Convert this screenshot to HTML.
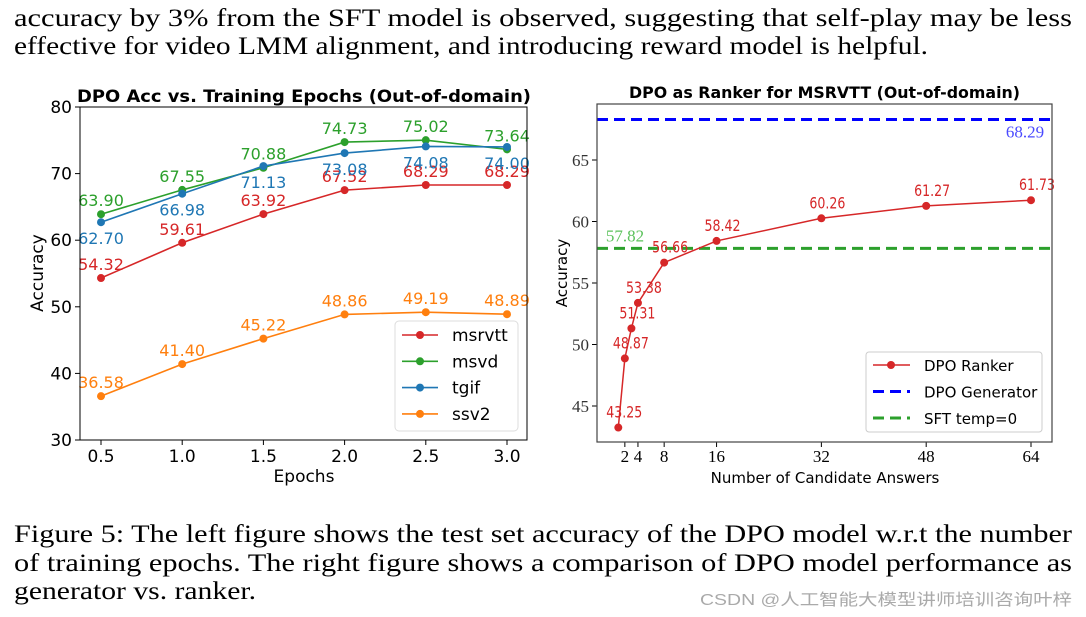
<!DOCTYPE html>
<html><head><meta charset="utf-8">
<style>
html,body{margin:0;padding:0;background:#fff;}
svg{display:block;}
.serif{font-family:"Liberation Serif",serif;}
.sans{font-family:"DejaVu Sans","Liberation Sans",sans-serif;}
</style></head>
<body>
<svg id="fig" width="1086" height="617" viewBox="0 0 1086 617" xmlns="http://www.w3.org/2000/svg">
  <text class="serif" x="14" y="26" font-size="25" textLength="1058" lengthAdjust="spacingAndGlyphs" fill="#000">accuracy by 3% from the SFT model is observed, suggesting that self-play may be less</text>
  <text class="serif" x="14" y="54" font-size="25" textLength="914" lengthAdjust="spacingAndGlyphs" fill="#000">effective for video LMM alignment, and introducing reward model is helpful.</text>

  <g id="left"></g>
  <g id="right"></g>

  <text class="serif" x="14" y="542" font-size="25" textLength="1058" lengthAdjust="spacingAndGlyphs" fill="#000">Figure 5: The left figure shows the test set accuracy of the DPO model w.r.t the number</text>
  <text class="serif" x="14" y="571" font-size="25" textLength="1058" lengthAdjust="spacingAndGlyphs" fill="#000">of training epochs. The right figure shows a comparison of DPO model performance as</text>
  <text class="serif" x="14" y="599" font-size="25" textLength="242" lengthAdjust="spacingAndGlyphs" fill="#000">generator vs. ranker.</text>
  <text font-family="'Liberation Sans','Noto Sans CJK SC',sans-serif" x="700" y="605" font-size="16" textLength="372" lengthAdjust="spacingAndGlyphs" fill="#aaa">CSDN @人工智能大模型讲师培训咨询叶梓</text>
</svg>
<script>
const NS='http://www.w3.org/2000/svg';
// ---- left chart data ----
const epochs=[0.5,1.0,1.5,2.0,2.5,3.0];
const seriesNames=['msrvtt','msvd','tgif','ssv2'];
const msrvtt=[54.32,59.61,63.92,67.52,68.29,68.29];
const msvd=[63.90,67.55,70.88,74.73,75.02,73.64];
const tgif=[62.70,66.98,71.13,73.08,74.08,74.00];
const ssv2=[36.58,41.40,45.22,48.86,49.19,48.89];
const leftXTicks=[0.5,1.0,1.5,2.0,2.5,3.0];
const leftYTicks=[30,40,50,60,70,80];
// ---- right chart data ----
const candidates=[1,2,3,4,8,16,32,48,64];
const rankerAcc=[43.25,48.87,51.31,53.38,56.66,58.42,60.26,61.27,61.73];
const generatorAcc=[68.29];
const sftAcc=[57.82];
const rightXTicks=[2,4,8,16,32,48,64];
const rightYTicks=[45,50,55,60,65];

function el(tag,attrs,parent,text){const e=document.createElementNS(NS,tag);for(const k in attrs)e.setAttribute(k,attrs[k]);if(text!==undefined)e.textContent=text;parent.appendChild(e);return e;}

// LEFT
(function(){
  const g=document.getElementById('left');
  const L=80,R=527,T=107,B=440;
  const x=v=>101+(v-0.5)/2.5*(507-101);
  const y=v=>B-(v-30)/50*(B-T);
  const colors={msrvtt:'#d62728',msvd:'#2ca02c',tgif:'#1f77b4',ssv2:'#ff7f0e'};
  const data={msrvtt,msvd,tgif,ssv2};
  const t=el('text',{x:77,y:102,'font-size':17,'font-weight':'bold',class:'sans',textLength:454,lengthAdjust:'spacingAndGlyphs'},g,'DPO Acc vs. Training Epochs (Out-of-domain)');
  
  
  leftYTicks.forEach(v=>{
    const tk=el('line',{x1:L-5,x2:L,y1:y(v),y2:y(v),stroke:'#000'},g);
    
    
    const lb=el('text',{x:L-8,y:y(v)+6,'text-anchor':'end','font-size':17,class:'sans'},g,String(v));
    
    
  });
  leftXTicks.forEach(v=>{
    const tk=el('line',{x1:x(v),x2:x(v),y1:B,y2:B+5,stroke:'#000'},g);
    
    
    const lb=el('text',{x:x(v),y:B+22,'text-anchor':'middle','font-size':17,class:'sans'},g,v.toFixed(1));
    
    
  });
  const xt=el('text',{x:304,y:482,'text-anchor':'middle','font-size':17,class:'sans'},g,'Epochs');
  
  
  const yt=el('text',{x:43,y:273,'text-anchor':'middle','font-size':17,class:'sans',transform:'rotate(-90 43 273)'},g,'Accuracy');
  
  
  seriesNames.forEach(n=>{
    const vals=data[n];
    const pts=vals.map((v,i)=>x(epochs[i])+','+y(v)).join(' ');
    const pl=el('polyline',{points:pts,fill:'none',stroke:colors[n],'stroke-width':1.6},g);
    
    
    vals.forEach((v,i)=>{
      const c=el('circle',{cx:x(epochs[i]),cy:y(v),r:4,fill:colors[n]},g);
      
      
      const below=(n==='tgif');
      const a=el('text',{x:x(epochs[i]),y:below?y(v)+22:y(v)-8,'text-anchor':'middle','font-size':16,class:'sans',fill:colors[n]},g,v.toFixed(2));
      
      
    });
  });
  const fr=el('rect',{x:L,y:T,width:R-L,height:B-T,fill:'none',stroke:'#000','stroke-width':1},g);
  
  
  const lg=el('g',{},g);
  
  
  el('rect',{x:395,y:321,width:123,height:110,rx:4,fill:'#fff','fill-opacity':0.85,stroke:'#ddd'},lg);
  seriesNames.forEach((n,i)=>{
    const yy=335+i*26.3;
    el('line',{x1:402,x2:438,y1:yy,y2:yy,stroke:colors[n],'stroke-width':1.6},lg);
    el('circle',{cx:420,cy:yy,r:4,fill:colors[n]},lg);
    const lt=el('text',{x:452,y:yy+6,'font-size':17,class:'sans'},lg,n);
    
    
  });
})();

// RIGHT
(function(){
  const g=document.getElementById('right');
  const L=597,R=1052,T=104,B=442;
  const x=v=>618.3+(v-1)*(1031-618.3)/63;
  const y=v=>406-(v-45)*(406-160)/20;
  const red='#d62728';
  const t=el('text',{x:629,y:98,'font-size':16,'font-weight':'bold',class:'sans',textLength:391,lengthAdjust:'spacingAndGlyphs'},g,'DPO as Ranker for MSRVTT (Out-of-domain)');
  
  
  rightYTicks.forEach(v=>{
    const tk=el('line',{x1:L-5,x2:L,y1:y(v),y2:y(v),stroke:'#000'},g);
    
    
    const lb=el('text',{x:L-8,y:y(v)+6,'text-anchor':'end','font-size':17,class:'serif',fill:'#333'},g,String(v));
    
    
  });
  rightXTicks.forEach(v=>{
    const tk=el('line',{x1:x(v),x2:x(v),y1:B,y2:B+5,stroke:'#000'},g);
    
    
    const lb=el('text',{x:x(v),y:B+20,'text-anchor':'middle','font-size':17,class:'serif'},g,String(v));
    
    
  });
  const xt=el('text',{x:825,y:483,'text-anchor':'middle','font-size':15,class:'sans'},g,'Number of Candidate Answers');
  
  
  const yt=el('text',{x:567,y:273,'text-anchor':'middle','font-size':15,class:'sans',transform:'rotate(-90 567 273)'},g,'Accuracy');
  
  
  const gl=el('line',{x1:L,x2:R,y1:y(generatorAcc[0]),y2:y(generatorAcc[0]),stroke:'#0000ff','stroke-width':3,'stroke-dasharray':'11 6'},g);
  
  
  const glb=el('text',{x:1025,y:y(generatorAcc[0])+18,'text-anchor':'middle','font-size':17,class:'serif',fill:'#4a4aff'},g,generatorAcc[0].toFixed(2));
  
  
  const sl=el('line',{x1:L,x2:R,y1:y(sftAcc[0]),y2:y(sftAcc[0]),stroke:'#2ca02c','stroke-width':3,'stroke-dasharray':'11 6'},g);
  
  
  const slb=el('text',{x:625,y:y(sftAcc[0])-7,'text-anchor':'middle','font-size':17,class:'serif',fill:'#5cc25c'},g,sftAcc[0].toFixed(2));
  
  
  const pts=rankerAcc.map((v,i)=>x(candidates[i])+','+y(v)).join(' ');
  const pl=el('polyline',{points:pts,fill:'none',stroke:red,'stroke-width':1.5},g);
  
  
  rankerAcc.forEach((v,i)=>{
    const c=el('circle',{cx:x(candidates[i]),cy:y(v),r:4,fill:red},g);
    
    
    const a=el('text',{x:x(candidates[i])+6,y:y(v)-10,'text-anchor':'middle','font-size':16,class:'sans',fill:red,textLength:36,lengthAdjust:'spacingAndGlyphs'},g,v.toFixed(2));
    
    
  });
  const fr=el('rect',{x:L,y:T,width:R-L,height:B-T,fill:'none',stroke:'#444','stroke-width':1.2},g);
  
  
  const lg=el('g',{},g);
  
  
  el('rect',{x:866,y:352,width:176,height:80,rx:3,fill:'#fff',stroke:'#ccc'},lg);
  const items=[['DPO Ranker',red,null],['DPO Generator','#0000ff','11 6'],['SFT temp=0','#2ca02c','11 6']];
  items.forEach((it,i)=>{
    const yy=365+i*26.5;
    if(it[2]){el('line',{x1:873,x2:910,y1:yy,y2:yy,stroke:it[1],'stroke-width':3,'stroke-dasharray':it[2]},lg);}
    else{el('line',{x1:873,x2:910,y1:yy,y2:yy,stroke:it[1],'stroke-width':1.5},lg);el('circle',{cx:891,cy:yy,r:4,fill:it[1]},lg);}
    const lt=el('text',{x:924,y:yy+6,'font-size':15,class:'sans'},lg,it[0]);
    
    
  });
})();
</script>
</body></html>
